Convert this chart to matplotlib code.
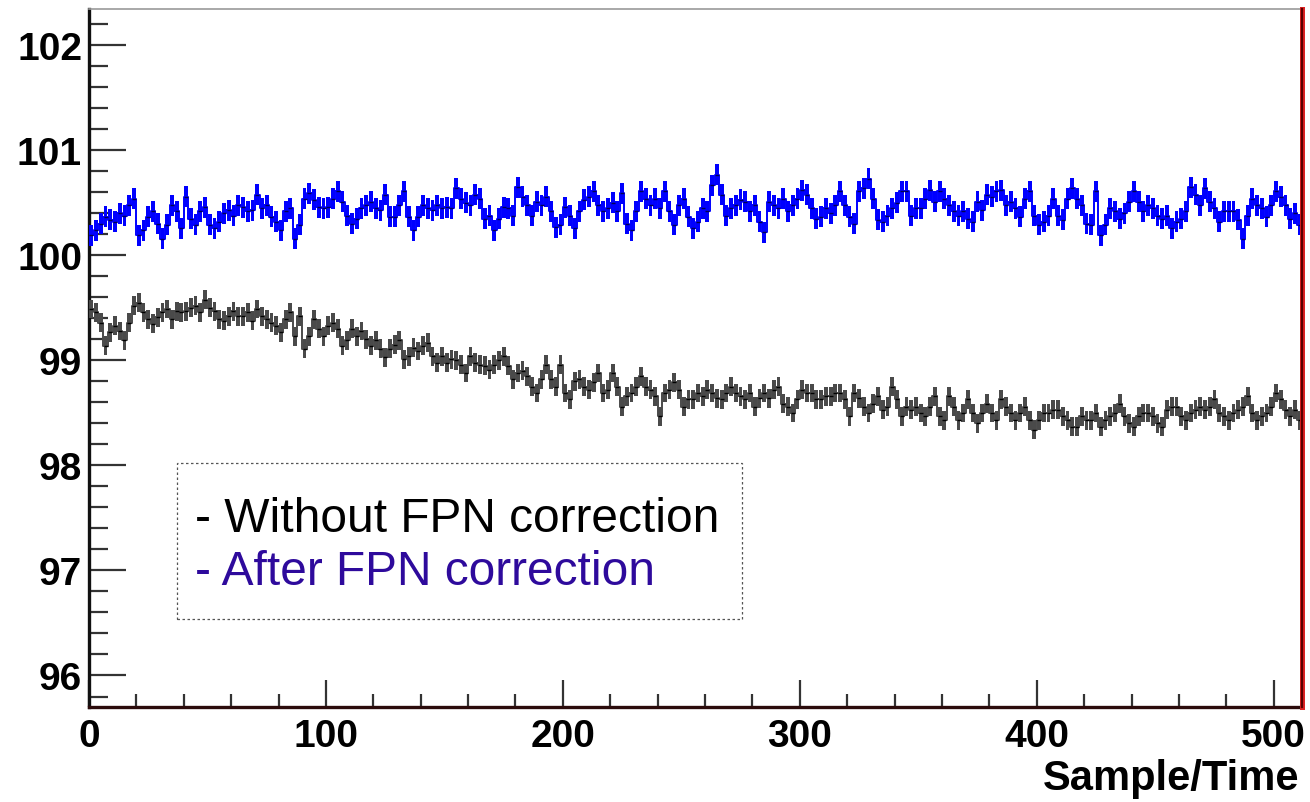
import numpy as np
import matplotlib
matplotlib.use("Agg")
import matplotlib.pyplot as plt
from matplotlib.patches import Rectangle
from matplotlib.ticker import MultipleLocator

plt.rcParams["font.family"] = "Liberation Sans"

# values, one value per 2 samples (s = 0, 2, 4, ... 510)
bin_w = 2

blue_vals = [
    100.19, 100.24, 100.30, 100.37, 100.34, 100.32, 100.40, 100.38, 100.48, 100.54,
    100.19, 100.24, 100.37, 100.42, 100.30, 100.16, 100.29, 100.48, 100.42, 100.26,
    100.56, 100.35, 100.29, 100.42, 100.46, 100.29, 100.26, 100.32, 100.40, 100.43,
    100.38, 100.48, 100.46, 100.42, 100.43, 100.58, 100.45, 100.48, 100.37, 100.32,
    100.24, 100.42,
    100.45, 100.16, 100.29, 100.54, 100.59, 100.53, 100.46, 100.45,
    100.46, 100.54, 100.61, 100.51, 100.38, 100.30, 100.35, 100.45, 100.48, 100.51,
    100.45, 100.43, 100.58, 100.37, 100.37, 100.48, 100.61, 100.37, 100.24, 100.37,
    100.48, 100.45, 100.43, 100.48, 100.45, 100.46, 100.45, 100.64, 100.54, 100.50,
    100.48, 100.58, 100.54, 100.35,
    100.38, 100.24, 100.35, 100.46, 100.45, 100.38,
    100.65, 100.56, 100.48, 100.38, 100.51, 100.48, 100.56, 100.42, 100.27, 100.29,
    100.46, 100.38, 100.26, 100.42, 100.53, 100.56, 100.61, 100.48, 100.42, 100.45,
    100.50, 100.42, 100.59, 100.30, 100.24, 100.42, 100.61, 100.54, 100.48, 100.54,
    100.45, 100.61, 100.42, 100.29, 100.48, 100.54,
    100.37, 100.26, 100.32, 100.45,
    100.42, 100.67, 100.77, 100.58, 100.38, 100.45, 100.48, 100.53, 100.51, 100.42,
    100.48, 100.32, 100.22, 100.51, 100.48, 100.45, 100.54, 100.42, 100.48, 100.54,
    100.62, 100.58, 100.45, 100.35, 100.37, 100.45, 100.40, 100.48, 100.61, 100.48,
    100.37, 100.30, 100.61, 100.64, 100.73, 100.54, 100.34, 100.32,
    100.38, 100.45,
    100.50, 100.61, 100.61, 100.38, 100.45, 100.45, 100.54, 100.62, 100.51, 100.61,
    100.54, 100.48, 100.42, 100.38, 100.42, 100.35, 100.32, 100.51, 100.43, 100.58,
    100.56, 100.61, 100.62, 100.48, 100.51, 100.45, 100.37, 100.54, 100.61, 100.38,
    100.29, 100.32, 100.38, 100.54, 100.38, 100.34, 100.54, 100.64, 100.54, 100.48,
    100.30, 100.29, 100.61, 100.19, 100.29,
    100.45, 100.42, 100.35, 100.40, 100.51,
    100.61, 100.51, 100.42, 100.48, 100.45, 100.38, 100.35, 100.38, 100.26, 100.32,
    100.35, 100.42, 100.65, 100.58, 100.48, 100.64, 100.51, 100.45, 100.32, 100.42,
    100.42, 100.42, 100.34, 100.16, 100.38, 100.54, 100.48, 100.45, 100.37, 100.48,
    100.61, 100.56, 100.48, 100.35, 100.40, 100.29,
]

black_vals = [
    99.49, 99.46, 99.36, 99.14, 99.27, 99.33, 99.28, 99.19, 99.36, 99.52,
    99.55, 99.46, 99.39, 99.35, 99.41, 99.46, 99.49, 99.39, 99.47, 99.46,
    99.47, 99.50, 99.52, 99.46, 99.58, 99.50, 99.47, 99.39, 99.38, 99.42,
    99.47, 99.42, 99.42, 99.46, 99.38, 99.49, 99.42, 99.39, 99.36, 99.33,
    99.27, 99.39,
    99.46, 99.23, 99.42, 99.11, 99.23, 99.39, 99.30, 99.23,
    99.33, 99.36, 99.30, 99.14, 99.19, 99.30, 99.23, 99.28, 99.20, 99.14,
    99.19, 99.11, 99.03, 99.11, 99.15, 99.19, 99.01, 99.04, 99.12, 99.09,
    99.14, 99.17, 99.04, 98.98, 99.04, 98.98, 99.01, 99.00, 98.96, 98.88,
    99.04, 98.98, 98.96, 98.95,
    98.91, 98.96, 99.00, 99.04, 98.95, 98.82,
    98.88, 98.90, 98.85, 98.75, 98.69, 98.82, 98.96, 98.82, 98.75, 98.96,
    98.69, 98.63, 98.80, 98.82, 98.75, 98.72, 98.79, 98.88, 98.69, 98.72,
    98.88, 98.75, 98.56, 98.66, 98.69, 98.75, 98.85, 98.75, 98.72, 98.66,
    98.47, 98.69, 98.72, 98.79, 98.72, 98.56,
    98.63, 98.63, 98.69, 98.66,
    98.72, 98.69, 98.64, 98.63, 98.69, 98.75, 98.69, 98.66, 98.63, 98.69,
    98.56, 98.64, 98.69, 98.64, 98.72, 98.75, 98.59, 98.56, 98.50, 98.63,
    98.72, 98.69, 98.69, 98.63, 98.63, 98.66, 98.66, 98.69, 98.69, 98.63,
    98.47, 98.69, 98.64, 98.56, 98.50, 98.59, 98.66, 98.53,
    98.56, 98.75,
    98.63, 98.47, 98.56, 98.53, 98.56, 98.50, 98.47, 98.56, 98.66, 98.47,
    98.43, 98.66, 98.56, 98.43, 98.50, 98.63, 98.50, 98.40, 98.50, 98.59,
    98.50, 98.43, 98.63, 98.56, 98.50, 98.43, 98.50, 98.56, 98.43, 98.34,
    98.43, 98.50, 98.50, 98.53, 98.53, 98.47, 98.43, 98.37, 98.37, 98.47,
    98.43, 98.43, 98.50, 98.37, 98.43,
    98.47, 98.50, 98.59, 98.47, 98.40,
    98.37, 98.47, 98.50, 98.50, 98.47, 98.40, 98.37, 98.53, 98.56, 98.56,
    98.47, 98.43, 98.50, 98.53, 98.56, 98.53, 98.56, 98.63, 98.50, 98.47,
    98.43, 98.50, 98.53, 98.56, 98.66, 98.50, 98.43, 98.47, 98.50, 98.56,
    98.69, 98.63, 98.53, 98.47, 98.53, 98.43,
]

blue_err = 0.10
black_err = 0.09

x_ticks = [0, 100, 200, 300, 400, 500]
y_ticks = [96, 97, 98, 99, 100, 101, 102]
legend_lines = ["- Without FPN correction", "- After FPN correction"]
legend_colors = ["black", "#2e0a9c"]
x_title = "Sample/Time"

## figure
fig = plt.figure(figsize=(13.1, 8.03), dpi=100)
ax = fig.add_axes([0.0679, 0.1183, 0.9261, 0.8697])


def draw_series(vals, err, color, dotcolor):
    vals = np.asarray(vals)
    xc = np.arange(len(vals)) * bin_w + bin_w / 2
    # error band of each bin, drawn as a narrow bar around the bin content
    ax.bar(xc, 2 * err, bottom=vals - err, width=bin_w * 0.8,
           color=color, linewidth=0, zorder=3)
    # bin contents joined as a step line, so the dense bins read as one band
    ax.step(xc, vals, where='mid', color=color, lw=1.4, zorder=3)
    ax.plot(xc, vals, ls='none', marker='_', ms=3, mew=1.0, color=dotcolor, zorder=4)


draw_series(black_vals, black_err, '#4a4a4a', 'black')
draw_series(blue_vals, blue_err, '#0000ff', '#000055')

ax.set_xlim(0, 512)
ax.set_ylim(95.7, 102.35)
ax.set_xticks(x_ticks)
ax.set_yticks(y_ticks)
ax.xaxis.set_minor_locator(MultipleLocator(20))
ax.yaxis.set_minor_locator(MultipleLocator(0.2))

ax.tick_params(axis='both', which='both', direction='in', top=False, right=False,
               color='#333333', width=1.6)
ax.tick_params(axis='y', which='major', length=26.6, pad=5, labelsize=28)
ax.tick_params(axis='y', which='minor', length=13.7)
ax.tick_params(axis='x', which='major', length=19.4, pad=8, labelsize=28)
ax.tick_params(axis='x', which='minor', length=9.4)
for lab in ax.get_xticklabels() + ax.get_yticklabels():
    lab.set_fontweight('bold')

ax.spines['left'].set_linewidth(2.4)
ax.spines['left'].set_color('#111111')
ax.spines['bottom'].set_linewidth(2.4)
ax.spines['bottom'].set_color('#2b0b0b')
ax.spines['top'].set_linewidth(1.2)
ax.spines['top'].set_color('#999999')
ax.spines['right'].set_visible(False)
ax.axvline(512, color='#dd2222', lw=3.6, clip_on=False, zorder=5)
ax.axvline(512, color='#5a0000', lw=1.6, clip_on=False, zorder=6)

fig.text(1299 / 1310, (803 - 790) / 803, x_title, ha='right', va='baseline',
         fontsize=30, fontweight='bold')

# dashed legend box
fig.patches.append(Rectangle((177 / 1310, (803 - 620) / 803), 565 / 1310, 156 / 803,
                             transform=fig.transFigure, fill=False, ls=(0, (2, 2)),
                             lw=0.9, edgecolor='#555555'))
fig.text(195 / 1310, (803 - 532) / 803, legend_lines[0], color=legend_colors[0],
         fontsize=34.5, va='baseline')
fig.text(195 / 1310, (803 - 585) / 803, legend_lines[1], color=legend_colors[1],
         fontsize=34.5, va='baseline')

fig.savefig('out.png', dpi=100)
